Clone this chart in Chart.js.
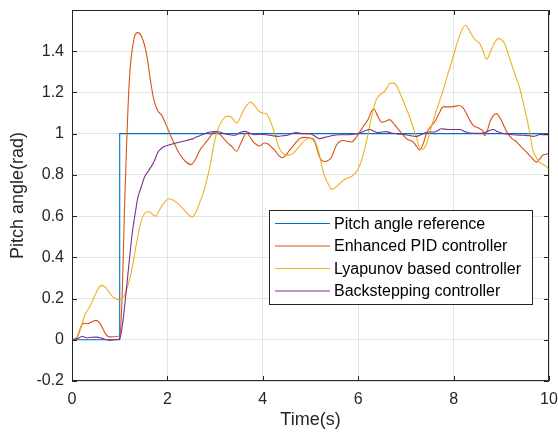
<!DOCTYPE html>
<html>
<head>
<meta charset="utf-8">
<script src="https://cdn.jsdelivr.net/npm/chart.js@4.4.1/dist/chart.umd.min.js"></script>
<style>
  html, body { margin: 0; padding: 0; background: #fff; }
  #wrap { width: 558px; height: 439px; }
</style>
</head>
<body>
<div id="wrap"><canvas id="myChart"></canvas></div>
<script>
// values
const seriesNames = ['Pitch angle reference', 'Enhanced PID controller', 'Lyapunov based controller', 'Backstepping controller'];
const seriesColors = ['#0072BD', '#D95319', '#EDB120', '#7E2F8E'];
const xTicks = [0, 2, 4, 6, 8, 10];
const yTicks = [-0.2, 0, 0.2, 0.4, 0.6, 0.8, 1, 1.2, 1.4];

const refTime = [0, 1, 1, 10];
const refAngle = [0, 0, 1, 1];

const pidTime = [0, 0.1, 0.2, 0.25, 0.33, 0.42, 0.5, 0.6, 0.7, 0.78, 0.9, 1.0, 1.05, 1.1, 1.2, 1.3, 1.38, 1.46, 1.56, 1.65, 1.72, 1.8, 1.88, 1.96, 2.05, 2.15, 2.26, 2.38, 2.5, 2.6, 2.68, 2.78, 2.88, 2.99, 3.08, 3.17, 3.26, 3.34, 3.45, 3.55, 3.66, 3.73, 3.8, 3.88, 3.94, 4.03, 4.11, 4.18, 4.25, 4.33, 4.41, 4.48, 4.56, 4.67, 4.77, 4.88, 4.98, 5.09, 5.19, 5.3, 5.37, 5.44, 5.54, 5.62, 5.7, 5.78, 5.86, 5.95, 6.03, 6.12, 6.21, 6.28, 6.33, 6.4, 6.49, 6.57, 6.66, 6.74, 6.83, 6.92, 7.01, 7.15, 7.22, 7.29, 7.36, 7.43, 7.5, 7.6, 7.7, 7.78, 7.95, 8.13, 8.2, 8.27, 8.34, 8.41, 8.55, 8.62, 8.65, 8.7, 8.76, 8.84, 8.9, 8.95, 9.0, 9.07, 9.14, 9.23, 9.32, 9.42, 9.53, 9.63, 9.74, 9.8, 9.87, 9.94, 10];
const pidAngle = [0, 0.01, 0.07, 0.08, 0.078, 0.088, 0.094, 0.075, 0.03, 0.014, 0.015, 0.02, 0.2, 0.63, 1.25, 1.46, 1.49, 1.47, 1.39, 1.25, 1.16, 1.11, 1.09, 1.05, 1.0, 0.95, 0.9, 0.865, 0.85, 0.88, 0.92, 0.95, 0.98, 1.01, 1.0, 0.98, 0.955, 0.94, 0.915, 0.96, 1.003, 0.985, 0.96, 0.945, 0.94, 0.955, 0.95, 0.935, 0.92, 0.895, 0.883, 0.895, 0.92, 0.95, 0.976, 0.982, 0.98, 0.96, 0.886, 0.865, 0.87, 0.886, 0.943, 0.963, 0.967, 0.962, 0.96, 0.98, 1.008, 1.04, 1.07, 1.11, 1.12, 1.09, 1.056, 1.06, 1.068, 1.05, 1.024, 1.0, 0.976, 0.96, 0.94, 0.92, 0.95, 1.0, 1.03, 1.056, 1.1, 1.13, 1.13, 1.137, 1.125, 1.097, 1.065, 1.04, 1.024, 1.01, 0.99, 1.01, 1.056, 1.09, 1.097, 1.085, 1.065, 1.03, 1.0, 0.975, 0.96, 0.935, 0.91, 0.885, 0.862, 0.875, 0.895, 0.9, 0.906];

const lyapTime = [0, 0.13, 0.2, 0.27, 0.37, 0.45, 0.51, 0.57, 0.63, 0.7, 0.75, 0.86, 0.95, 1.0, 1.1, 1.18, 1.25, 1.33, 1.42, 1.49, 1.56, 1.62, 1.68, 1.75, 1.81, 1.87, 1.95, 2.03, 2.1, 2.18, 2.26, 2.35, 2.45, 2.52, 2.6, 2.68, 2.75, 2.82, 2.89, 2.96, 3.03, 3.1, 3.17, 3.24, 3.31, 3.38, 3.45, 3.52, 3.59, 3.67, 3.74, 3.82, 3.9, 4.0, 4.08, 4.14, 4.21, 4.28, 4.35, 4.42, 4.49, 4.56, 4.63, 4.72, 4.81, 4.9, 4.98, 5.05, 5.12, 5.19, 5.26, 5.32, 5.37, 5.42, 5.46, 5.53, 5.61, 5.7, 5.79, 5.86, 5.93, 6.0, 6.07, 6.14, 6.21, 6.28, 6.35, 6.42, 6.49, 6.57, 6.66, 6.73, 6.8, 6.87, 6.94, 7.01, 7.08, 7.15, 7.22, 7.29, 7.36, 7.43, 7.53, 7.65, 7.78, 7.88, 7.99, 8.06, 8.13, 8.2, 8.25, 8.33, 8.41, 8.48, 8.55, 8.62, 8.69, 8.76, 8.83, 8.9, 8.95, 9.01, 9.07, 9.14, 9.21, 9.3, 9.39, 9.46, 9.53, 9.6, 9.66, 9.72, 9.77, 9.84, 9.91, 10];
const lyapAngle = [0, 0.02, 0.07, 0.12, 0.16, 0.2, 0.23, 0.255, 0.264, 0.255, 0.24, 0.207, 0.196, 0.194, 0.215, 0.27, 0.336, 0.44, 0.547, 0.6, 0.62, 0.622, 0.61, 0.6, 0.62, 0.644, 0.67, 0.684, 0.68, 0.668, 0.652, 0.63, 0.605, 0.595, 0.62, 0.668, 0.71, 0.77, 0.84, 0.93, 1.0, 1.045, 1.07, 1.084, 1.084, 1.07, 1.05, 1.075, 1.11, 1.14, 1.153, 1.14, 1.113, 1.1, 1.097, 1.07, 1.03, 0.975, 0.927, 0.905, 0.895, 0.897, 0.903, 0.925, 0.951, 0.97, 0.979, 0.978, 0.95, 0.895, 0.82, 0.78, 0.757, 0.735, 0.73, 0.74, 0.757, 0.775, 0.786, 0.792, 0.806, 0.83, 0.87, 0.93, 1.0, 1.08, 1.146, 1.18, 1.194, 1.21, 1.243, 1.245, 1.234, 1.2, 1.162, 1.12, 1.08, 1.03, 0.984, 0.93, 0.925, 0.95, 1.03, 1.12, 1.21, 1.29, 1.372, 1.43, 1.477, 1.515, 1.526, 1.5, 1.469, 1.45, 1.437, 1.4, 1.36, 1.39, 1.429, 1.455, 1.461, 1.455, 1.437, 1.39, 1.34, 1.28, 1.218, 1.15, 1.08, 1.0, 0.92, 0.89, 0.87, 0.855, 0.846, 0.83];

const backTime = [0, 0.1, 0.22, 0.3, 0.4, 0.51, 0.62, 0.72, 0.8, 0.9, 1.0, 1.07, 1.12, 1.18, 1.23, 1.28, 1.33, 1.38, 1.45, 1.52, 1.59, 1.66, 1.73, 1.8, 1.86, 1.91, 2.0, 2.12, 2.24, 2.36, 2.45, 2.54, 2.62, 2.68, 2.78, 2.89, 3.0, 3.1, 3.2, 3.3, 3.41, 3.52, 3.62, 3.72, 3.83, 3.95, 4.07, 4.2, 4.32, 4.42, 4.52, 4.6, 4.7, 4.85, 4.98, 5.08, 5.19, 5.3, 5.44, 5.6, 5.79, 5.9, 6.0, 6.12, 6.24, 6.33, 6.42, 6.5, 6.59, 6.7, 6.8, 6.9, 7.0, 7.1, 7.22, 7.3, 7.39, 7.5, 7.6, 7.67, 7.74, 7.88, 8.0, 8.13, 8.24, 8.34, 8.5, 8.62, 8.72, 8.83, 8.92, 9.0, 9.12, 9.25, 9.46, 9.6, 9.66, 9.73, 9.8, 9.9, 10];
const backAngle = [0, 0.005, 0.016, 0.01, 0.012, 0.013, 0.008, 0.0, -0.003, 0.0, 0.005, 0.094, 0.2, 0.336, 0.45, 0.547, 0.62, 0.69, 0.74, 0.79, 0.815, 0.84, 0.87, 0.91, 0.925, 0.935, 0.943, 0.951, 0.958, 0.964, 0.97, 0.976, 0.985, 0.99, 1.0, 1.008, 1.01, 1.008, 1.0, 0.995, 0.992, 1.005, 1.011, 1.003, 0.995, 0.997, 0.995, 0.99, 0.987, 0.99, 0.992, 1.0, 1.005, 1.0, 1.0, 0.99, 0.976, 0.982, 0.99, 0.995, 0.995, 0.998, 1.0, 1.012, 1.02, 1.012, 1.005, 1.008, 1.01, 1.003, 1.0, 0.997, 0.995, 0.99, 0.987, 0.993, 1.003, 1.008, 1.008, 1.015, 1.024, 1.02, 1.02, 1.02, 1.01, 1.003, 1.002, 1.003, 1.012, 1.02, 1.01, 1.003, 0.998, 0.995, 0.992, 0.99, 0.987, 0.99, 0.996, 0.995, 0.995];

const FONT = "'Liberation Sans', Arial, sans-serif";
const TEXT = '#262626';

const toPoints = (xs, ys) => xs.map((x, i) => ({ x: x, y: ys[i] }));

const allTimes = [refTime, pidTime, lyapTime, backTime];
const allAngles = [refAngle, pidAngle, lyapAngle, backAngle];

const datasets = seriesNames.map((name, i) => ({
  label: name,
  data: toPoints(allTimes[i], allAngles[i]),
  borderColor: seriesColors[i],
  backgroundColor: seriesColors[i],
  borderWidth: 1.1,
  pointRadius: 0,
  fill: false,
  cubicInterpolationMode: i === 0 ? 'default' : 'monotone',
  tension: 0,
  order: 4 - i,
}));

// no extra room for the edge labels, the plot box is fixed by layout.padding
const noScalePadding = (s) => {
  s.paddingLeft = 0; s.paddingRight = 0; s.paddingTop = 0; s.paddingBottom = 0;
};

// box, inside ticks, axis titles and legend like the matlab figure
const matlabFrame = {
  id: 'matlabFrame',
  afterDatasetsDraw(chart) {
    const { ctx, chartArea: a, scales } = chart;
    ctx.save();
    ctx.strokeStyle = TEXT;
    ctx.lineWidth = 1;
    ctx.beginPath();
    ctx.rect(Math.round(a.left) + 0.5, Math.round(a.top) + 0.5, Math.round(a.right - a.left) - 1, Math.round(a.bottom - a.top) - 1);
    ctx.stroke();

    const tl = 5;
    ctx.beginPath();
    xTicks.forEach(v => {
      const px = Math.round(scales.x.getPixelForValue(v)) + 0.5;
      ctx.moveTo(px, a.bottom); ctx.lineTo(px, a.bottom - tl);
      ctx.moveTo(px, a.top); ctx.lineTo(px, a.top + tl);
    });
    yTicks.forEach(v => {
      const py = Math.round(scales.y.getPixelForValue(v)) + 0.5;
      ctx.moveTo(a.left, py); ctx.lineTo(a.left + tl, py);
      ctx.moveTo(a.right, py); ctx.lineTo(a.right - tl, py);
    });
    ctx.stroke();

    // axis titles
    ctx.fillStyle = TEXT;
    ctx.font = '18px ' + FONT;
    ctx.textAlign = 'center';
    ctx.textBaseline = 'middle';
    ctx.fillText('Time(s)', (a.left + a.right) / 2, 420);
    ctx.save();
    ctx.translate(18, (a.top + a.bottom) / 2);
    ctx.rotate(-Math.PI / 2);
    ctx.fillText('Pitch angle(rad)', 0, 0);
    ctx.restore();

    // legend
    const lx = 269.5, ly = 210.5, lw = 263, lh = 94;
    ctx.fillStyle = '#fff';
    ctx.fillRect(lx, ly, lw, lh);
    ctx.strokeStyle = TEXT;
    ctx.strokeRect(lx, ly, lw, lh);
    ctx.font = '16px ' + FONT;
    ctx.textAlign = 'left';
    seriesNames.forEach((name, i) => {
      const yy = 223.5 + i * 22.5;
      ctx.strokeStyle = seriesColors[i];
      ctx.lineWidth = 1.1;
      ctx.beginPath();
      ctx.moveTo(275, yy); ctx.lineTo(330, yy);
      ctx.stroke();
      ctx.fillStyle = '#000';
      ctx.fillText(name, 334, yy + 1);
    });
    ctx.restore();
  }
};

const pitchChart = document.getElementById('myChart');

new Chart(pitchChart, {
  type: 'line',
  data: { datasets: datasets },
  options: {
    responsive: true,
    maintainAspectRatio: false,
    animation: false,
    events: [],
    layout: { padding: { top: 10, right: 9, left: 0, bottom: 0 } },
    plugins: { legend: { display: false }, tooltip: { enabled: false } },
    scales: {
      x: {
        type: 'linear',
        min: 0,
        max: 10,
        afterFit: (s) => { s.height = 58; noScalePadding(s); },
        afterBuildTicks: (s) => { s.ticks = xTicks.map(v => ({ value: v })); },
        grid: { color: '#e3e3e3', drawTicks: false },
        border: { display: false },
        ticks: {
          padding: 9,
          color: TEXT,
          font: { family: FONT, size: 16 },
          maxRotation: 0,
          callback: (v) => String(v),
        },
      },
      y: {
        type: 'linear',
        min: -0.2,
        max: 1.6,
        afterFit: (s) => { s.width = 72; noScalePadding(s); },
        afterBuildTicks: (s) => { s.ticks = yTicks.map(v => ({ value: v })); },
        grid: { color: '#e3e3e3', drawTicks: false },
        border: { display: false },
        ticks: {
          padding: 8,
          color: TEXT,
          font: { family: FONT, size: 16 },
          callback: (v) => String(Math.round(v * 10) / 10),
        },
      },
    },
  },
  plugins: [matlabFrame],
});
</script>
</body>
</html>
